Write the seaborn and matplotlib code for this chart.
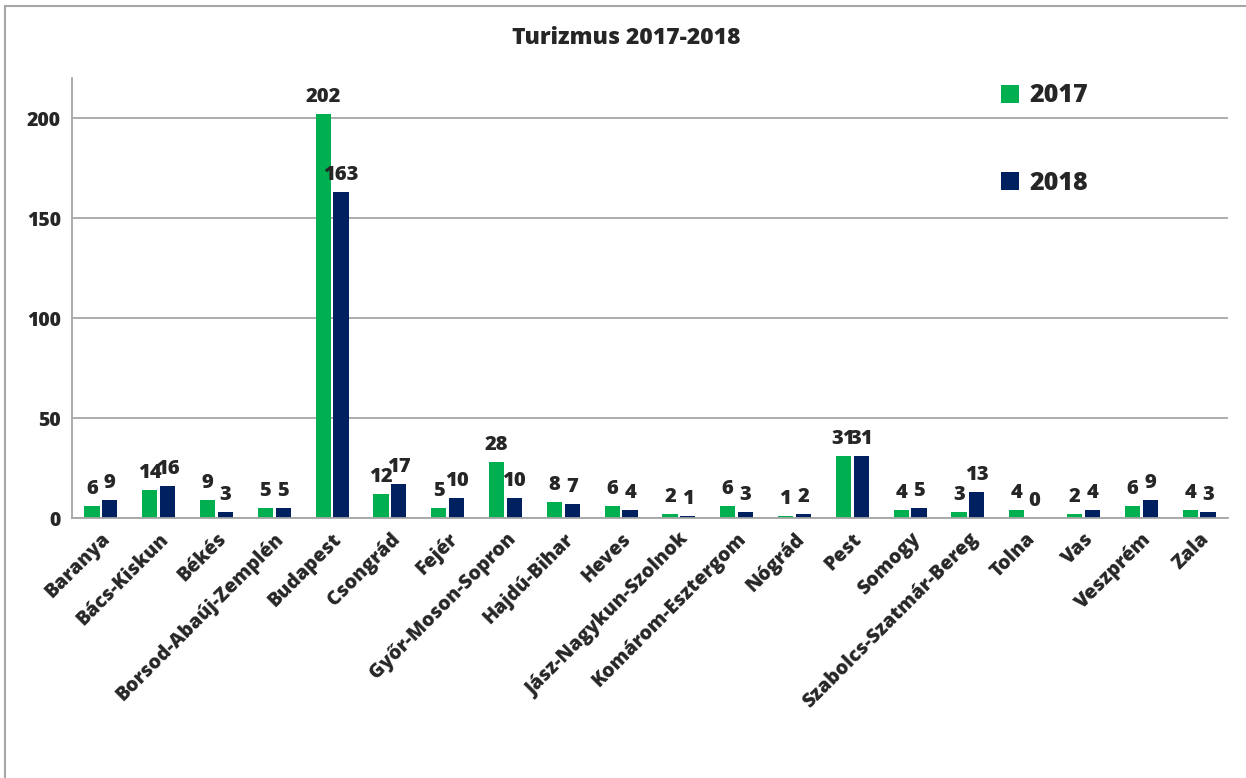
import pandas as pd
import matplotlib.pyplot as plt
import seaborn as sns
from matplotlib.patches import Rectangle

counties = ['Baranya', 'Bács-Kiskun', 'Békés', 'Borsod-Abaúj-Zemplén', 'Budapest',
            'Csongrád', 'Fejér', 'Győr-Moson-Sopron', 'Hajdú-Bihar', 'Heves',
            'Jász-Nagykun-Szolnok', 'Komárom-Esztergom', 'Nógrád', 'Pest', 'Somogy',
            'Szabolcs-Szatmár-Bereg', 'Tolna', 'Vas', 'Veszprém', 'Zala']
values_2017 = [6, 14, 9, 5, 202, 12, 5, 28, 8, 6, 2, 6, 1, 31, 4, 3, 4, 2, 6, 4]
values_2018 = [9, 16, 3, 5, 163, 17, 10, 10, 7, 4, 1, 3, 2, 31, 5, 13, 0, 4, 9, 3]
years = ['2017', '2018']
colors = ['#00B050', '#002060']

df = pd.DataFrame({
    'Megye': counties * 2,
    'Év': [years[0]] * len(counties) + [years[1]] * len(counties),
    'Érték': values_2017 + values_2018,
})

sns.set_style('white')
plt.rcParams['font.family'] = ['Open Sans', 'DejaVu Sans']
W = 'heavy'
plt.rcParams['font.weight'] = W

fig = plt.figure(figsize=(12.46, 7.78), dpi=100)
ax = fig.add_axes([72 / 1246, 1 - 518 / 778, (1228 - 72) / 1246, (518 - 78) / 778])

sns.barplot(data=df, x='Megye', y='Érték', hue='Év', palette=colors,
            saturation=1, width=0.62, gap=0.15, linewidth=0, ax=ax)

for cont in ax.containers:
    ax.bar_label(cont, padding=5, fontsize=14.5, fontweight=W)

ax.set_ylim(0, 220)
ax.set_yticks([0, 50, 100, 150, 200])
ax.yaxis.grid(True, color='#A6A6A6', linewidth=1.3)
ax.set_axisbelow(True)
ax.set_xlim(-0.5, len(counties) - 0.5)
ax.set_xlabel('')
ax.set_ylabel('')
for side in ['top', 'right']:
    ax.spines[side].set_visible(False)
for side in ['left', 'bottom']:
    ax.spines[side].set_color('#A6A6A6')
    ax.spines[side].set_linewidth(1.3)
ax.tick_params(axis='both', length=0, labelsize=14, pad=8)
plt.setp(ax.get_xticklabels(), rotation=45, ha='right', rotation_mode='anchor',
         fontweight=W)
plt.setp(ax.get_yticklabels(), fontweight=W)

fig.text(0.503, 1 - 38 / 778, 'Turizmus 2017-2018', ha='center', va='center',
         fontsize=16.5, fontweight=W)

handles, labels = ax.get_legend_handles_labels()
ax.legend(handles, labels, loc='upper left', frameon=False,
          bbox_to_anchor=(978 / 1246, 1 - 61 / 778), bbox_transform=fig.transFigure,
          handlelength=0.75, handleheight=0.75, handletextpad=0.4,
          labelspacing=2.5, prop={'weight': W, 'size': 18})

fig.patches.append(Rectangle((5 / 1246, -0.1), 1.1, 1.1 - 6 / 778,
                             transform=fig.transFigure, fill=False,
                             edgecolor='#A6A6A6', linewidth=1.5))

fig.savefig('out.png', dpi=100)
